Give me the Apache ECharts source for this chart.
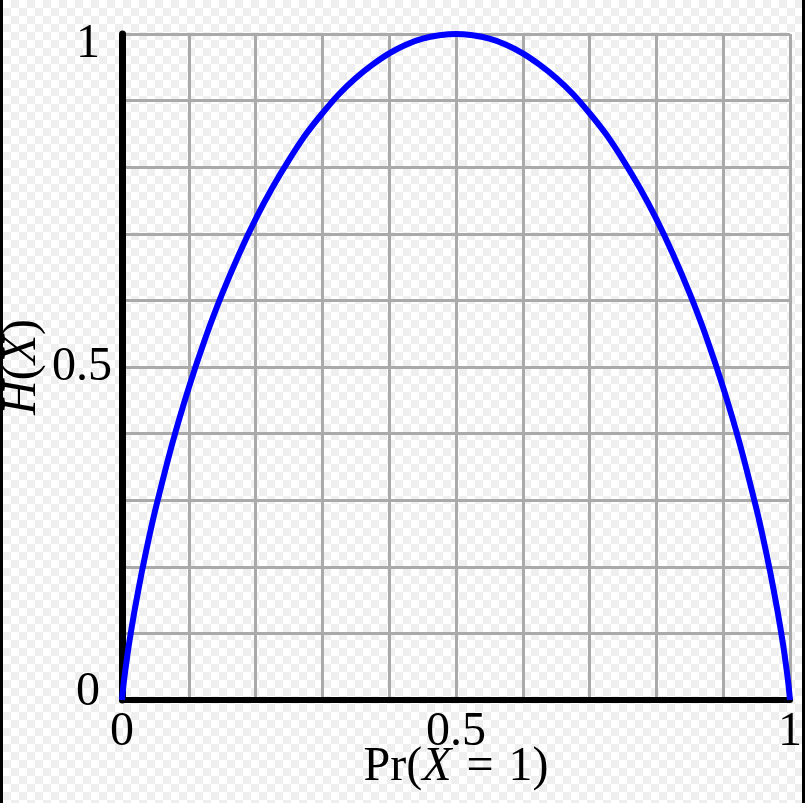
<!DOCTYPE html>
<html>
<head>
<meta charset="utf-8">
<script src="https://cdn.jsdelivr.net/npm/echarts@6/dist/echarts.min.js"></script>
<style>
html,body{margin:0;padding:0;}
#wrap{position:relative;width:805px;height:803px;overflow:hidden;
  background:repeating-conic-gradient(#efefef 0 25%, #ffffff 0 50%) 3px 0/16px 16px;}
#main{position:absolute;left:0;top:0;width:805px;height:803px;}
.edge{position:absolute;top:0;width:3px;height:803px;background:#000;}
</style>
</head>
<body>
<div id="wrap">
  <div id="main"></div>
  <div class="edge" style="left:0"></div>
  <div class="edge" style="right:0"></div>
</div>
<script>
// Probability Pr(X = 1) and entropy H(X)
var pValues = [0, 0.0025, 0.005, 0.01, 0.015, 0.02, 0.03, 0.04, 0.05, 0.075, 0.1, 0.125, 0.15, 0.175, 0.2, 0.225, 0.25,
               0.275, 0.3, 0.325, 0.35, 0.375, 0.4, 0.425, 0.45, 0.475, 0.5,
               0.525, 0.55, 0.575, 0.6, 0.625, 0.65, 0.675, 0.7, 0.725, 0.75, 0.775, 0.8, 0.825, 0.85, 0.875,
               0.9, 0.925, 0.95, 0.96, 0.97, 0.98, 0.985, 0.99, 0.995, 0.9975, 1];
var hValues = [0, 0.025, 0.045, 0.081, 0.112, 0.141, 0.194, 0.242, 0.286, 0.384, 0.469, 0.544, 0.610, 0.669, 0.722, 0.769, 0.811,
               0.849, 0.881, 0.910, 0.934, 0.954, 0.971, 0.984, 0.993, 0.998, 1,
               0.998, 0.993, 0.984, 0.971, 0.954, 0.934, 0.910, 0.881, 0.849, 0.811, 0.769, 0.722, 0.669, 0.610, 0.544,
               0.469, 0.384, 0.286, 0.242, 0.194, 0.141, 0.112, 0.081, 0.045, 0.025, 0];
var xTickLabels = ['0', '0.5', '1'];
var yTickLabels = ['0', '0.5', '1'];

var FONT = 'Liberation Serif';
var FS = 48;

var seriesData = pValues.map(function (p, i) { return [p, hValues[i]]; });

function fmt(labels, v, axis) {
  var s = String(v);
  if (labels.indexOf(s) < 0) return '';
  if (axis === 'y') {
    if (s === '1') return '{t|' + s + '}';
    if (s === '0') return '{b|' + s + '}';
    return '{m|' + s + '}';
  }
  return '{m|' + s + '}';
}

var baseTxt = { fontFamily: FONT, fontSize: FS, color: '#000' };
function st(extra) { var o = {}; for (var k in baseTxt) o[k] = baseTxt[k]; for (var k2 in extra) o[k2] = extra[k2]; return o; }

var chart = echarts.init(document.getElementById('main'), null, { renderer: 'canvas' });
chart.setOption({
  backgroundColor: 'transparent',
  animation: false,
  grid: { left: 122, right: 15, top: 34, bottom: 103, containLabel: false, outerBoundsMode: 'none' },
  xAxis: {
    type: 'value', min: 0, max: 1, interval: 0.1,
    name: '{n|Pr(}{i|X}{e|=}{n|1)}',
    nameLocation: 'middle', nameGap: 43, nameMoveOverlap: false,
    nameTextStyle: { rich: { n: st({}), i: st({ fontStyle: 'italic' }), e: st({ padding: [0, 15, 0, 15] }) } },
    axisLine: { show: true, onZero: false, lineStyle: { color: '#000', width: 6 } },
    axisTick: { show: false },
    axisLabel: {
      margin: 8,
      formatter: function (v) { return fmt(xTickLabels, v, 'x'); },
      rich: { m: st({}) }
    },
    splitLine: { show: true, lineStyle: { color: '#aaaaaa', width: 3 } }
  },
  yAxis: {
    type: 'value', min: 0, max: 1, interval: 0.1,
    name: '{i|H}{n|(}{i|X}{n|)}',
    nameLocation: 'middle', nameGap: 76, nameRotate: 90, nameMoveOverlap: false,
    nameTextStyle: { rich: { n: st({}), i: st({ fontStyle: 'italic' }) } },
    axisLine: { show: true, onZero: false, lineStyle: { color: '#000', width: 7 } },
    axisTick: { show: false },
    axisLabel: {
      margin: 10,
      formatter: function (v) { return fmt(yTickLabels, v, 'y'); },
      rich: {
        m: st({}),
        t: st({ padding: [20, 12, 0, 0] }),
        b: st({ padding: [0, 12, 16, 0] })
      }
    },
    splitLine: { show: true, lineStyle: { color: '#aaaaaa', width: 3 } }
  },
  series: [{
    type: 'line',
    data: seriesData,
    smooth: 0.3,
    showSymbol: false,
    clip: false,
    lineStyle: { color: '#0000ff', width: 6, cap: 'butt' },
    z: 3
  }]
});
</script>
</body>
</html>
